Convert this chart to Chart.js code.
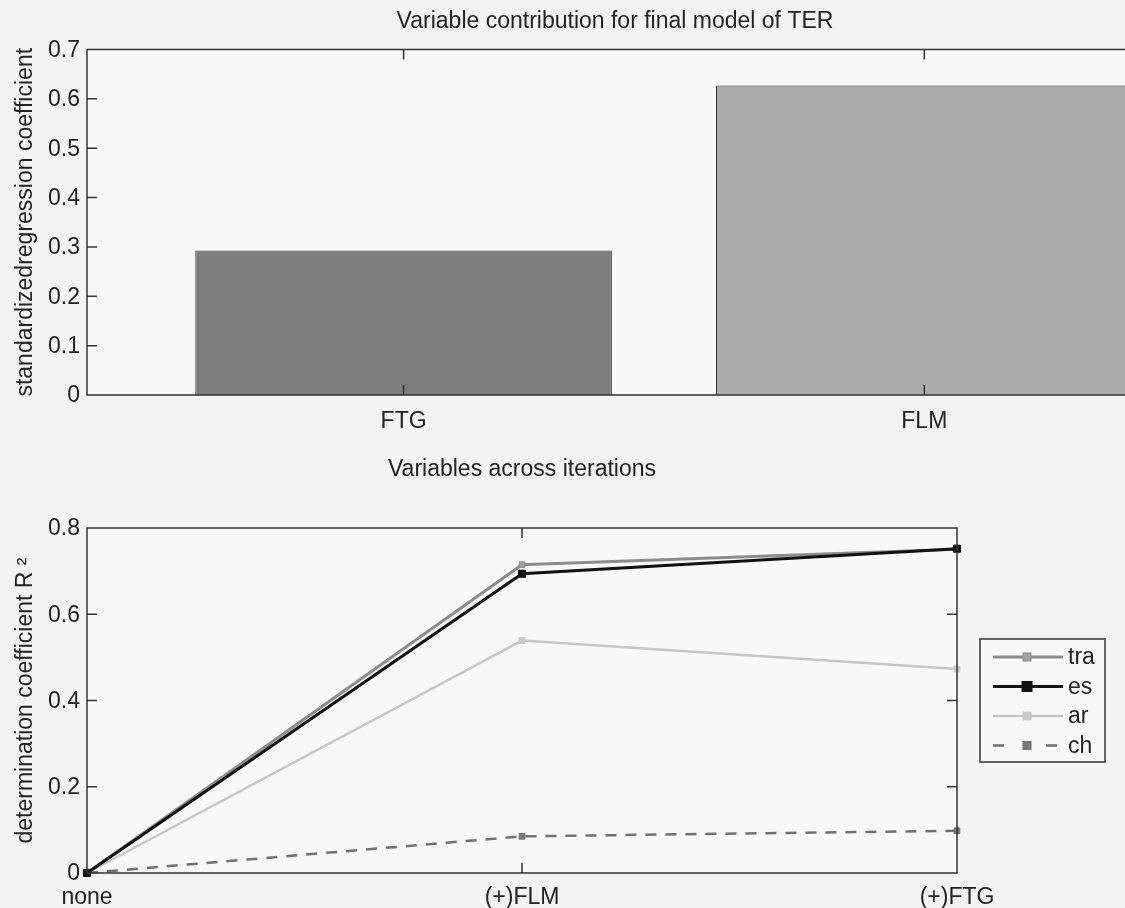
<!DOCTYPE html>
<html>
<head>
<meta charset="utf-8">
<script src="https://cdn.jsdelivr.net/npm/chart.js@4/dist/chart.umd.min.js"></script>
<style>
  html, body { margin: 0; padding: 0; background: #f3f3f3; overflow: hidden; width: 1125px; height: 908px; }
  #top { position: absolute; left: 0; top: 0; }
  #bottom { position: absolute; left: 0; top: 450px; }
</style>
</head>
<body>
<canvas id="top" width="1150" height="450"></canvas>
<canvas id="bottom" width="1125" height="458"></canvas>
<script>
// top plot: standardized coefficients
const barLabels = ['FTG', 'FLM'];
const barValues = [0.293, 0.627];

// bottom plot: R^2 per iteration
const stepLabels = ['none', '(+)FLM', '(+)FTG'];
const traValues = [0, 0.715, 0.751];
const esValues = [0, 0.694, 0.752];
const arValues = [0, 0.539, 0.473];
const chValues = [0, 0.085, 0.098];

const FONT = "'Liberation Sans', Arial, sans-serif";
const INK = '#222';
Chart.defaults.font.family = FONT;
Chart.defaults.color = INK;
Chart.defaults.animation = false;

// matlab style box + inward ticks
const boxAxes = {
  id: 'boxAxes',
  beforeDatasetsDraw(chart) {
    const { ctx, chartArea: a } = chart;
    ctx.save();
    ctx.fillStyle = '#f8f8f8';
    ctx.fillRect(a.left, a.top, a.right - a.left, a.bottom - a.top);
    ctx.restore();
  },
  afterDatasetsDraw(chart) {
    const { ctx, chartArea: a } = chart;
    const len = 10;
    ctx.save();
    ctx.strokeStyle = '#333';
    ctx.lineWidth = 1.5;
    ctx.strokeRect(a.left, a.top, a.right - a.left, a.bottom - a.top);
    ctx.beginPath();
    const ys = chart.scales.y;
    ys.ticks.forEach((t, i) => {
      const p = ys.getPixelForTick(i);
      if (Math.abs(p - a.top) < 2 || Math.abs(p - a.bottom) < 2) return;
      ctx.moveTo(a.left, p); ctx.lineTo(a.left + len, p);
      ctx.moveTo(a.right, p); ctx.lineTo(a.right - len, p);
    });
    const xs = chart.scales.x;
    xs.ticks.forEach((t, i) => {
      const p = xs.getPixelForTick(i);
      if (Math.abs(p - a.left) < 2 || Math.abs(p - a.right) < 2) return;
      ctx.moveTo(p, a.bottom); ctx.lineTo(p, a.bottom - len);
      ctx.moveTo(p, a.top); ctx.lineTo(p, a.top + len);
    });
    ctx.stroke();
    ctx.restore();
  }
};

// legend with line + marker in a box, right of the plot
const boxLegend = {
  id: 'boxLegend',
  afterDraw(chart) {
    const { ctx, chartArea: a } = chart;
    const left = a.right + 23, top = a.top + 111, w = 125, h = 123;
    ctx.save();
    ctx.fillStyle = '#f8f8f8';
    ctx.fillRect(left, top, w, h);
    ctx.strokeStyle = '#333';
    ctx.lineWidth = 1.5;
    ctx.strokeRect(left, top, w, h);
    chart.data.datasets.forEach((ds, i) => {
      const y = top + 18 + i * 29.5;
      ctx.strokeStyle = ds.borderColor;
      ctx.lineWidth = ds.borderWidth;
      ctx.setLineDash(ds.borderDash || []);
      ctx.beginPath();
      if (ds.borderDash) {
        ctx.moveTo(left + 13, y); ctx.lineTo(left + 30, y);
        ctx.moveTo(left + 66, y); ctx.lineTo(left + 83, y);
      } else {
        ctx.moveTo(left + 13, y); ctx.lineTo(left + 83, y);
      }
      ctx.stroke();
      ctx.setLineDash([]);
      const r = ds.pointRadius;
      ctx.fillStyle = ds.pointBackgroundColor;
      ctx.fillRect(left + 47 - r, y - r, 2 * r, 2 * r);
      ctx.strokeStyle = ds.pointBorderColor;
      ctx.lineWidth = 1;
      ctx.strokeRect(left + 47 - r, y - r, 2 * r, 2 * r);
      ctx.fillStyle = INK;
      ctx.font = '23px ' + FONT;
      ctx.textBaseline = 'middle';
      ctx.fillText(ds.label, left + 88, y + 1);
    });
    ctx.restore();
  }
};

new Chart(document.getElementById('top'), {
  type: 'bar',
  data: {
    datasets: [{
      data: barValues.map((v, i) => ({ x: i + 1, y: v })),
      backgroundColor: ['#7d7d7d', '#ababab'],
      borderColor: '#333',
      borderWidth: 1,
      barPercentage: 0.8,
      categoryPercentage: 1
    }]
  },
  options: {
    responsive: false,
    layout: { padding: { left: 0, right: 7, top: 0, bottom: 0 } },
    plugins: {
      legend: { display: false },
      tooltip: { enabled: false },
      title: {
        display: true,
        fullSize: false,
        text: 'Variable contribution for final model of TER',
        color: INK,
        font: { size: 23, weight: 'normal' },
        padding: { top: 8.2, bottom: 13.7 }
      }
    },
    scales: {
      x: {
        type: 'linear',
        offset: false,
        min: 0.392,
        max: 2.42,
        afterBuildTicks: scale => { scale.ticks = barLabels.map((l, i) => ({ value: i + 1 })); },
        afterFit: scale => { scale.height = 55; },
        grid: { display: false, drawTicks: false, offset: false },
        border: { display: false },
        ticks: {
          padding: 13,
          font: { size: 23 },
          callback: v => barLabels[v - 1]
        }
      },
      y: {
        min: 0,
        max: 0.7,
        afterFit: scale => { scale.width = 87; },
        grid: { display: false, drawTicks: false },
        border: { display: false },
        ticks: { stepSize: 0.1, padding: 7, labelOffset: 1, font: { size: 23 } },
        title: {
          display: true,
          text: 'standardizedregression coefficient',
          font: { size: 23 },
          padding: { top: 12, bottom: 0 }
        }
      }
    }
  },
  plugins: [boxAxes]
});

function lineSet(label, values, color, width, pointColor, radius, order, dash) {
  return {
    label: label,
    data: values,
    borderColor: color,
    borderWidth: width,
    borderDash: dash,
    pointStyle: 'rect',
    pointRadius: radius,
    pointBackgroundColor: pointColor,
    pointBorderColor: color,
    pointBorderWidth: 1,
    order: order,
    clip: false,
    tension: 0
  };
}

new Chart(document.getElementById('bottom'), {
  type: 'line',
  data: {
    labels: stepLabels,
    datasets: [
      lineSet('tra', traValues, '#8c8c8c', 3, '#a2a2a2', 4, 1),
      lineSet('es', esValues, '#111111', 3, '#111111', 5, 0),
      lineSet('ar', arValues, '#c6c6c6', 2.5, '#cacaca', 4, 2),
      lineSet('ch', chValues, '#707070', 2.5, '#7a7a7a', 4, 3, [11, 9])
    ]
  },
  options: {
    responsive: false,
    layout: { padding: { left: 0, right: 168, top: 0, bottom: 0 } },
    plugins: {
      legend: { display: false },
      tooltip: { enabled: false },
      title: {
        display: true,
        fullSize: false,
        text: 'Variables across iterations',
        color: INK,
        font: { size: 23, weight: 'normal' },
        padding: { top: 6.2, bottom: 44.2 }
      }
    },
    scales: {
      x: {
        type: 'category',
        offset: false,
        afterFit: scale => { scale.height = 35; },
        grid: { display: false, drawTicks: false, offset: false },
        border: { display: false },
        ticks: { padding: 11, font: { size: 23 }, maxRotation: 0, autoSkip: false }
      },
      y: {
        min: 0,
        max: 0.8,
        afterFit: scale => { scale.width = 87; },
        grid: { display: false, drawTicks: false },
        border: { display: false },
        ticks: { stepSize: 0.2, padding: 7, labelOffset: 1, font: { size: 23 } },
        title: {
          display: true,
          text: 'determination coefficient R \u00b2',
          font: { size: 23 },
          padding: { top: 12, bottom: 0 }
        }
      }
    }
  },
  plugins: [boxAxes, boxLegend]
});
</script>
</body>
</html>
